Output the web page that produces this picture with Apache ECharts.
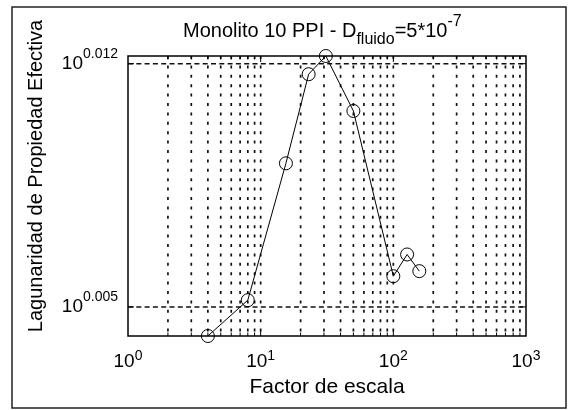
<!DOCTYPE html>
<html>
<head>
<meta charset="utf-8">
<script src="https://cdn.jsdelivr.net/npm/echarts@6/dist/echarts.min.js"></script>
<style>
  html, body { margin: 0; padding: 0; background: #fff; }
  #chart { width: 570px; height: 410px; }
</style>
</head>
<body>
<div id="chart"></div>
<script>
// Scale factor and effective-property lacunarity at each scale
const scaleFactors = [4, 8, 15.5, 23, 31, 50, 100, 127, 157];
const lacunarity = [1.00963, 1.01203, 1.02125, 1.02730, 1.02854, 1.02480, 1.01364, 1.01510, 1.01398];

// Axis decorations
const xDecadeExponents = ['0', '1', '2', '3'];
const xMinorGrid = [2, 3, 4, 5, 6, 7, 8, 9, 10, 20, 30, 40, 50, 60, 70, 80, 90, 100, 200, 300, 400, 500, 600, 700, 800, 900];
const yTickExponents = [0.005, 0.012];

const FONT = 'Liberation Sans';

// Lacunarity is plotted on a log10 scale: values are shown as exponents of ten
const logL = lacunarity.map(v => Math.log10(v));
const yMin = Math.min(...logL);
const yMax = Math.max(...logL);
const points = scaleFactors.map((x, i) => [x, logL[i]]);

const chart = echarts.init(document.getElementById('chart'), null, { renderer: 'canvas' });

const seg = (p1, p2, dash, width) => ({
  type: 'line',
  shape: { x1: p1[0], y1: p1[1], x2: p2[0], y2: p2[1] },
  style: { stroke: dash ? '#111' : '#000', lineWidth: width || 1, lineDash: dash || null }
});

chart.setOption({
  animation: false,
  backgroundColor: '#fff',
  title: {
    text: '{m|Monolito 10 PPI - D}{b|fluido}{m|=5*10}{t|-7}',
    left: 183,
    top: 14,
    padding: 0,
    textStyle: {
      fontWeight: 'normal',
      rich: {
        m: { fontFamily: FONT, fontSize: 20, fontWeight: 'normal', lineHeight: 34, color: '#000' },
        b: { fontFamily: FONT, fontSize: 16, fontWeight: 'normal', lineHeight: 14, verticalAlign: 'bottom', color: '#000' },
        t: { fontFamily: FONT, fontSize: 16, fontWeight: 'normal', lineHeight: 18, verticalAlign: 'top', color: '#000' }
      }
    }
  },
  graphic: [
    {
      type: 'rect',
      shape: { x: 12, y: 7, width: 554, height: 401 },
      style: { fill: 'none', stroke: '#222', lineWidth: 1.5 },
      silent: true
    },
    {
      type: 'text',
      x: 36,
      y: 176,
      rotation: Math.PI / 2,
      style: {
        text: 'Lagunaridad de Propiedad Efectiva',
        fontFamily: FONT,
        fontSize: 20,
        fill: '#000',
        align: 'center',
        verticalAlign: 'middle'
      },
      silent: true
    }
  ],
  grid: {
    left: 128, right: 44, top: 56, bottom: 74,
    show: true, borderColor: '#000', borderWidth: 1.5, backgroundColor: 'transparent'
  },
  xAxis: {
    type: 'log',
    logBase: 10,
    min: 1,
    max: 1000,
    name: 'Factor de escala',
    nameLocation: 'middle',
    nameGap: 36,
    nameTextStyle: { fontFamily: FONT, fontSize: 21, color: '#000' },
    axisLine: { show: false },
    axisTick: { show: false },
    splitLine: { show: false },
    minorTick: { show: false },
    axisLabel: {
      margin: 13,
      formatter: v => '{m|10}{s|' + xDecadeExponents[Math.round(Math.log10(v))] + '}',
      rich: {
        m: { fontFamily: FONT, fontSize: 19, lineHeight: 26, color: '#000' },
        s: { fontFamily: FONT, fontSize: 14, lineHeight: 12, verticalAlign: 'top', color: '#000' }
      }
    }
  },
  yAxis: {
    type: 'value',
    min: yMin,
    max: yMax,
    axisLine: { show: false },
    axisTick: { show: false },
    splitLine: { show: false },
    axisLabel: {
      margin: 10,
      align: 'right',
      customValues: yTickExponents,
      formatter: v => '{m|10}{s|' + v + '}',
      rich: {
        m: { fontFamily: FONT, fontSize: 19, lineHeight: 34, color: '#000' },
        s: { fontFamily: FONT, fontSize: 14, lineHeight: 12, verticalAlign: 'top', color: '#000' }
      }
    }
  },
  series: [
    {
      // vertical dotted grid with inward ticks on the bottom and top edges
      type: 'custom',
      z: 1,
      silent: true,
      clip: false,
      data: xMinorGrid.map(v => [v, yMin]),
      renderItem: (params, api) => {
        const x = api.value(0);
        const major = Math.abs(Math.log10(x) - Math.round(Math.log10(x))) < 1e-9;
        const len = major ? 6 : 3.5;
        const b = api.coord([x, yMin]);
        const t = api.coord([x, yMax]);
        return {
          type: 'group',
          children: [
            seg(t, b, [3, 6.4], 1.7),
            seg(b, [b[0], b[1] - len]),
            seg(t, [t[0], t[1] + len])
          ]
        };
      }
    },
    {
      // horizontal dashed grid with inward ticks on the left and right edges
      type: 'custom',
      z: 1,
      silent: true,
      clip: false,
      data: yTickExponents.map(v => [1, v]),
      renderItem: (params, api) => {
        const y = api.value(1);
        const l = api.coord([1, y]);
        const r = api.coord([1000, y]);
        return {
          type: 'group',
          children: [
            seg(l, r, [5, 3.3], 1.5),
            seg(l, [l[0] + 6, l[1]]),
            seg(r, [r[0] - 6, r[1]])
          ]
        };
      }
    },
    {
      name: 'Lagunaridad',
      type: 'line',
      z: 3,
      data: points,
      symbol: 'circle',
      symbolSize: 13,
      showSymbol: true,
      lineStyle: { color: '#000', width: 1 },
      itemStyle: { color: 'rgba(0,0,0,0)', borderColor: '#000', borderWidth: 1 }
    }
  ]
});
</script>
</body>
</html>
